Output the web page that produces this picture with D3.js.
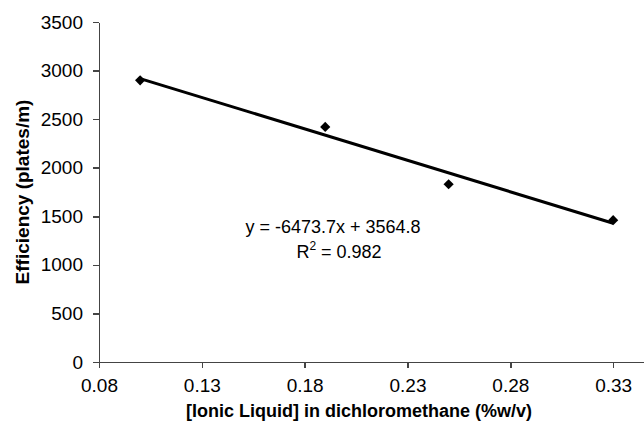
<!DOCTYPE html>
<html>
<head>
<meta charset="utf-8">
<script src="https://cdn.jsdelivr.net/npm/d3@7"></script>
<style>
  body { margin: 0; background: #fff; }
  svg { display: block; font-family: Arial, 'Liberation Sans', sans-serif; }
  .axis path, .axis line { stroke: #444; stroke-width: 1.5px; shape-rendering: crispEdges; }
  .axis text { fill: #000; font-size: 19px; }
</style>
</head>
<body>
<div id="chart"></div>
<script>
// data
const concentration = [0.10, 0.19, 0.25, 0.33];
const efficiency = [2900, 2420, 1830, 1460];
const xTicks = [0.08, 0.13, 0.18, 0.23, 0.28, 0.33];
const yTicks = [0, 500, 1000, 1500, 2000, 2500, 3000, 3500];
const slope = -6473.7;
const intercept = 3564.8;
const eqLine = 'y = -6473.7x + 3564.8';
const r2Value = '0.982';

// dimensions
const W = 644;
const H = 436;
const marginLeft = 99;
const marginTop = 22;
const marginBottom = 74;

const $svg = d3.select('#chart').append('svg')
  .attr('width', W)
  .attr('height', H);

const scaleX = d3.scaleLinear().domain([0.08, 0.345]).range([marginLeft, W]);
const scaleY = d3.scaleLinear().domain([0, 3500]).range([H - marginBottom, marginTop]);

// axes
const axisX = d3.axisBottom(scaleX)
  .tickValues(xTicks)
  .tickSize(6)
  .tickSizeOuter(0)
  .tickPadding(11)
  .tickFormat(d3.format('.2f'));

$svg.append('g')
  .attr('class', 'axis axis--x')
  .attr('transform', `translate(0, ${scaleY(0)})`)
  .call(axisX);

const axisY = d3.axisLeft(scaleY)
  .tickValues(yTicks)
  .tickSize(6)
  .tickSizeOuter(0)
  .tickPadding(10)
  .tickFormat(d3.format('d'));

$svg.append('g')
  .attr('class', 'axis axis--y')
  .attr('transform', `translate(${marginLeft}, 0)`)
  .call(axisY);

// trend line
const xEnds = d3.extent(concentration);
const trend = xEnds.map(x => [x, slope * x + intercept]);

$svg.append('path')
  .datum(trend)
  .attr('fill', 'none')
  .attr('stroke', '#000')
  .attr('stroke-width', 3)
  .attr('d', d3.line().x(d => scaleX(d[0])).y(d => scaleY(d[1])));

// markers
const diamond = d3.symbol(d3.symbolSquare, 52);
$svg.selectAll('.pt')
  .data(concentration.map((x, i) => [x, efficiency[i]]))
  .join('path')
  .attr('class', 'pt')
  .attr('d', diamond)
  .attr('fill', '#000')
  .attr('transform', d => `translate(${scaleX(d[0])}, ${scaleY(d[1])}) rotate(45)`);

// equation
$svg.append('text')
  .attr('x', 333)
  .attr('y', 233)
  .attr('text-anchor', 'middle')
  .style('font-size', '18px')
  .text(eqLine);

const r2 = $svg.append('text')
  .attr('x', 339)
  .attr('y', 258)
  .attr('text-anchor', 'middle')
  .style('font-size', '18px');
r2.append('tspan').text('R');
r2.append('tspan').attr('dy', -8).style('font-size', '12px').text('2');
r2.append('tspan').attr('dy', 8).text(` = ${r2Value}`);

// axis titles
$svg.append('text')
  .attr('x', 359)
  .attr('y', 417)
  .attr('text-anchor', 'middle')
  .style('font-size', '18px')
  .style('font-weight', 'bold')
  .text('[Ionic Liquid] in dichloromethane (%w/v)');

$svg.append('text')
  .attr('transform', `translate(29, ${(marginTop + H - marginBottom) / 2}) rotate(-90)`)
  .attr('text-anchor', 'middle')
  .style('font-size', '19px')
  .style('font-weight', 'bold')
  .text('Efficiency (plates/m)');
</script>
</body>
</html>
